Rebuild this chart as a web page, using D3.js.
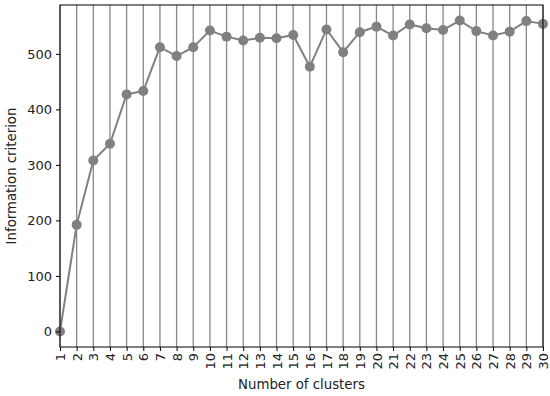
<!DOCTYPE html>
<html><head><meta charset="utf-8">
<script src="https://cdn.jsdelivr.net/npm/d3@7"></script>
<style>body{margin:0;background:#fff}svg{display:block;font-family:"DejaVu Sans",sans-serif}</style>
</head><body><svg id="c" width="550" height="396"></svg>
<script>
const clusters = d3.range(1, 31);
const criterion = [0,192,308,338,427,433,512,496,512,542,531,524,529,528,534,477,544,503,539,549,533,553,546,543,560,541,533,540,559,554];
const yTicks = [0,100,200,300,400,500];

const svg = d3.select("#c");
const L=60, R=543, T=5, B=347;
const x = d3.scaleLinear().domain([1,30]).range([L,R]);
const y = d3.scaleLinear().domain([-28,588]).range([B,T]);

// vertical grid lines
svg.append("g").selectAll("line").data(clusters).join("line")
  .attr("x1",d=>x(d)).attr("x2",d=>x(d)).attr("y1",T).attr("y2",B)
  .attr("stroke","#888").attr("stroke-width",1.3);

const line = d3.line().x((d,i)=>x(clusters[i])).y(d=>y(d));
svg.append("path").datum(criterion).attr("d",line)
  .attr("fill","none").attr("stroke","#808080").attr("stroke-width",2);
svg.append("g").selectAll("circle").data(criterion).join("circle")
  .attr("cx",(d,i)=>x(clusters[i])).attr("cy",d=>y(d)).attr("r",5)
  .attr("fill","#808080");

// frame
svg.append("rect").attr("x",L).attr("y",T).attr("width",R-L).attr("height",B-T)
  .attr("fill","none").attr("stroke","#000").attr("stroke-width",1);

const xa = svg.append("g").attr("transform",`translate(0,${B})`)
  .call(d3.axisBottom(x).tickValues(clusters).tickFormat(d3.format("d")).tickSize(4).tickPadding(3));
xa.select(".domain").remove();
xa.selectAll("text").attr("font-size",13).attr("font-family","DejaVu Sans")
  .attr("fill","#222")
  .attr("transform","rotate(-90)").attr("text-anchor","end")
  .attr("dy","0.35em").attr("y",0).attr("x",-6);
xa.selectAll("line").attr("stroke","#000");

const ya = svg.append("g").attr("transform",`translate(${L},0)`)
  .call(d3.axisLeft(y).tickValues(yTicks).tickSize(4).tickPadding(4));
ya.select(".domain").remove();
ya.selectAll("text").attr("font-size",13).attr("font-family","DejaVu Sans").attr("fill","#222");
ya.selectAll("line").attr("stroke","#000");

svg.append("text").attr("x",(L+R)/2).attr("y",389).attr("text-anchor","middle")
  .attr("font-size",13.3).attr("fill","#222").text("Number of clusters");
svg.append("text").attr("transform",`translate(16,${(T+B)/2}) rotate(-90)`)
  .attr("text-anchor","middle").attr("font-size",13.3).attr("fill","#222").text("Information criterion");
</script></body></html>
